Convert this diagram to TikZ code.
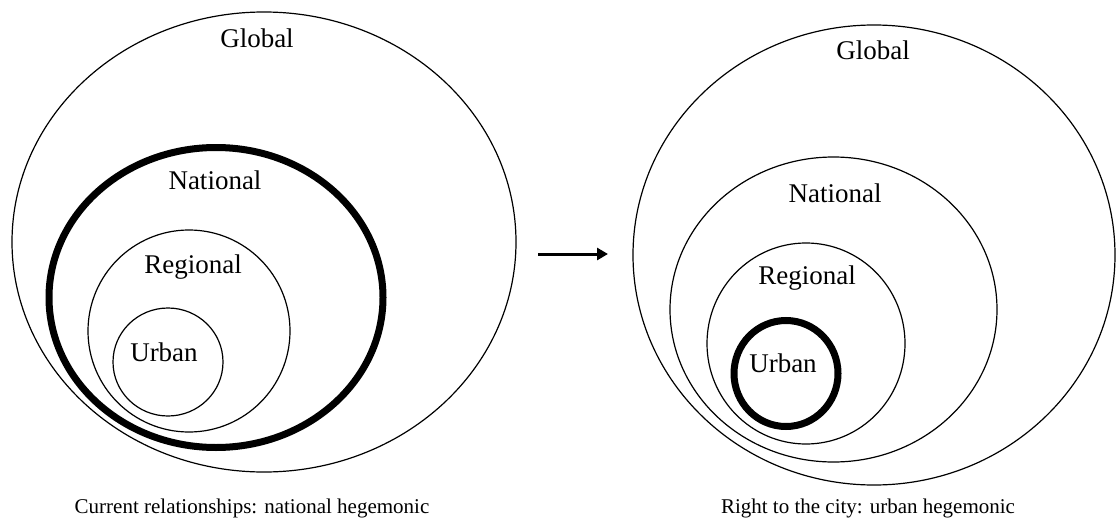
\documentclass[tikz,border=0pt]{standalone}
\usepackage{fontspec}
\setmainfont{Liberation Serif}
\usetikzlibrary{arrows.meta}
\begin{document}
\begin{tikzpicture}[x=1pt,y=-1pt,
  ring/.style={draw=black,line width=1.2pt},
  hegemon/.style={draw=black,line width=7pt},
  lbl/.style={font=\fontsize{27}{32}\selectfont,inner sep=0pt},
  captext/.style={font=\fontsize{21}{25}\selectfont,inner sep=0pt}]
\useasboundingbox (0,0) rectangle (1116,519);
% left diagram
\draw[ring] (264,242) ellipse [x radius=252pt, y radius=230pt];
\draw[hegemon] (216,297.5) ellipse [x radius=167pt, y radius=150pt];
\draw[ring] (189,331) ellipse [x radius=101pt, y radius=101pt];
\draw[ring] (168,362) ellipse [x radius=55pt, y radius=54pt];
\node[lbl] (gl) at (257,38) {Global};
\node[lbl] (nl) at (215,180) {National};
\node[lbl] (rl) at (193,267) {Regional};
\node[lbl] (ul) at (164,352) {Urban};
\node[captext] (cl) at (252,508) {Current relationships: national hegemonic};
% arrow
\coordinate (as) at (538,254);
\coordinate (ae) at (608,254);
\draw[line width=3pt,-{Triangle[length=11pt,width=12pt]}] (as) -- (ae);
% right diagram
\draw[ring] (874,255) ellipse [x radius=241pt, y radius=230pt];
\draw[ring] (833.5,309.5) ellipse [x radius=163.5pt, y radius=152.5pt];
\draw[ring] (806,343.5) ellipse [x radius=99pt, y radius=100.5pt];
\draw[hegemon] (786,373.5) ellipse [x radius=52pt, y radius=53pt];
\node[lbl] (gr) at (873,50) {Global};
\node[lbl] (nr) at (835,193) {National};
\node[lbl] (rr) at (807,278) {Regional};
\node[lbl] (ur) at (783,363) {Urban};
\node[captext] (cr) at (868,508) {Right to the city: urban hegemonic};
\end{tikzpicture}
\end{document}
